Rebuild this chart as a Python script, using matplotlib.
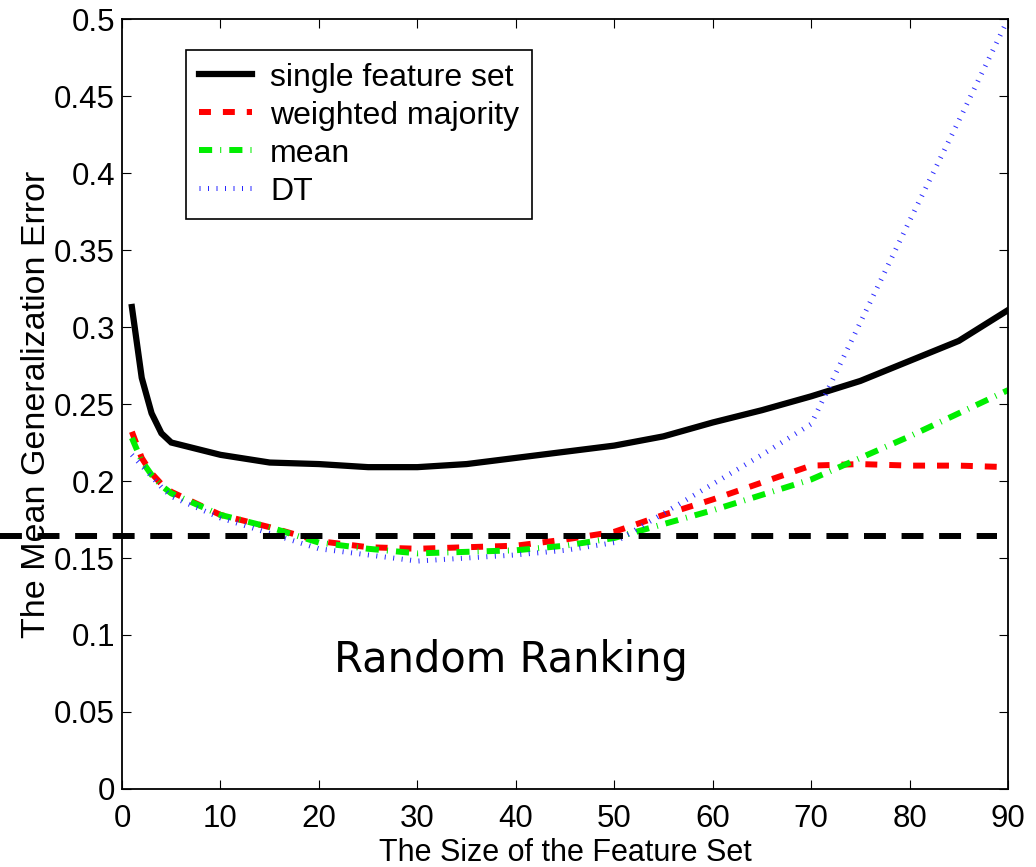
from matplotlib import pyplot as plt
import numpy as np

# feature-set sizes tested
sizes = [1, 2, 3, 4, 5, 10, 15, 20, 25, 30, 35, 40, 45, 50, 55, 60, 65, 70, 75, 80, 85, 90]

# mean generalization error per method
err_single = [0.313, 0.267, 0.244, 0.231, 0.225, 0.217, 0.212, 0.211, 0.209, 0.209, 0.211,
              0.215, 0.219, 0.223, 0.229, 0.238, 0.246, 0.255, 0.265, 0.278, 0.291, 0.311]
err_weighted = [0.232, 0.215, 0.205, 0.198, 0.193, 0.178, 0.170, 0.161, 0.157, 0.156, 0.157,
                0.158, 0.162, 0.167, 0.178, 0.188, 0.199, 0.210, 0.211, 0.210, 0.210, 0.209]
err_mean = [0.228, 0.213, 0.204, 0.197, 0.192, 0.178, 0.170, 0.160, 0.156, 0.153, 0.154,
            0.155, 0.158, 0.163, 0.172, 0.181, 0.191, 0.201, 0.215, 0.229, 0.244, 0.259]
err_dt = [0.217, 0.210, 0.203, 0.196, 0.190, 0.176, 0.166, 0.156, 0.152, 0.148, 0.150,
          0.152, 0.155, 0.160, 0.179, 0.198, 0.217, 0.237, 0.303, 0.369, 0.434, 0.500]

# reference error level, drawn across the plot
ref_err = 0.164
ref_span = [-12.4, 88.9]

labels = ['single feature set', 'weighted majority', 'mean', 'DT']
xticks = [0, 10, 20, 30, 40, 50, 60, 70, 80, 90]
yticks = [0, 0.05, 0.1, 0.15, 0.2, 0.25, 0.3, 0.35, 0.4, 0.45, 0.5]

plt.rcParams['font.family'] = ['Liberation Sans', 'DejaVu Sans']

fig = plt.figure(figsize=(10.36, 8.67), dpi=100)
ax = fig.add_axes([0.1178, 0.09, 0.8552, 0.888])

ax.plot(sizes, err_single, color='k', lw=4.5, solid_joinstyle='miter', label=labels[0])
ax.plot(sizes, err_weighted, color='#ff0000', lw=4.3, linestyle=(0, (2, 2)), label=labels[1])
ax.plot(sizes, err_mean, color='#00ee00', lw=4.3, linestyle=(0, (2.2, 1.35, 0.17, 1.35)),
        label=labels[2])
ax.plot(sizes, err_dt, color='#2a2aff', lw=3.6, linestyle=(0, (0.2, 1.5)), label=labels[3])

ax.hlines(ref_err, ref_span[0], ref_span[1], colors='k', lw=4.3,
          linestyles=[(0, (3.67, 2.62))], clip_on=False, zorder=5)

ax.text(39.5, 0.076, 'Random Ranking', family='DejaVu Sans', fontsize=30,
        ha='center', va='baseline')

ax.set_xlim(0, 90)
ax.set_ylim(0, 0.5)
ax.set_xticks(xticks)
ax.set_yticks(yticks)
ax.set_yticklabels([('%g' % v) for v in yticks])
ax.tick_params(direction='in', length=6.2, width=0.8, labelsize=22.5, pad=5,
               top=True, right=True)
ax.tick_params(axis='x', pad=11)
for s in ax.spines.values():
    s.set_linewidth(1.3)

ax.set_xlabel('The Size of the Feature Set', fontsize=22, labelpad=3)
ax.set_ylabel('The Mean Generalization Error', fontsize=24.5)
ax.yaxis.set_label_coords(-0.079, 0.5)

leg = ax.legend(loc='upper left', bbox_to_anchor=(0.0722, 0.96), borderaxespad=0,
                fontsize=23, handlelength=1.66, handletextpad=0.57, labelspacing=0.25,
                fancybox=False, framealpha=1, edgecolor='k', borderpad=0.4)
leg.get_frame().set_linewidth(1.2)

fig.savefig('out.png', dpi=100)
